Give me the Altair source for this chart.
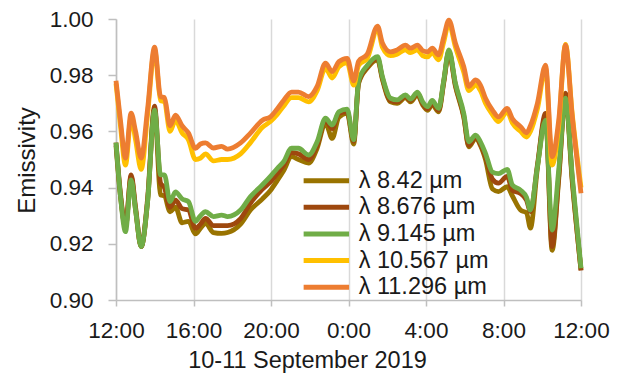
import altair as alt
import pandas as pd

# hours since 12:00 on 10 September 2019
hours = [0.0, 0.23, 0.49, 0.78, 1.01, 1.30, 1.63, 1.99, 2.30, 2.50, 2.79, 3.07, 3.41, 3.74,
         4.10, 4.36, 4.62, 5.03, 5.45, 5.76, 6.43, 6.94, 7.56, 7.97, 8.32, 8.65, 9.06, 9.42,
         9.94, 10.38, 10.81, 11.16, 11.50, 11.93, 12.27, 12.52, 12.97, 13.50, 13.75, 14.17,
         14.51, 14.94, 15.20, 15.56, 15.82, 16.08, 16.32, 16.65, 16.92, 17.18, 17.52, 17.95,
         18.21, 18.56, 18.81, 19.07, 19.43, 19.74, 20.19, 20.46, 20.88, 21.19, 21.39, 21.75,
         22.17, 22.51, 22.85, 23.20, 23.55, 24.0]

e_842 = [0.955, 0.937, 0.926, 0.944, 0.932, 0.919, 0.935, 0.968, 0.9374, 0.937, 0.9314, 0.933,
         0.9275, 0.928, 0.9235, 0.9255, 0.9273, 0.924, 0.9237, 0.924, 0.927, 0.932, 0.936, 0.939,
         0.9425, 0.946, 0.951, 0.950, 0.9487, 0.954, 0.963, 0.9575, 0.965, 0.9665, 0.9555, 0.977,
         0.9825, 0.9855, 0.9785, 0.9705, 0.970, 0.972, 0.9705, 0.973, 0.9695, 0.9675, 0.9695,
         0.967, 0.9775, 0.988, 0.976, 0.965, 0.9545, 0.9575, 0.955, 0.950, 0.9395, 0.9386,
         0.9403, 0.937, 0.932, 0.931, 0.9256, 0.947, 0.9652, 0.9177, 0.943, 0.9718, 0.942, 0.9107]

e_8676 = [0.956, 0.938, 0.926, 0.9445, 0.933, 0.919, 0.936, 0.969, 0.9416, 0.940, 0.933, 0.9355,
          0.9325, 0.932, 0.9255, 0.927, 0.929, 0.9265, 0.9265, 0.9265, 0.929, 0.9345, 0.9395,
          0.942, 0.945, 0.948, 0.9525, 0.952, 0.950, 0.955, 0.964, 0.961, 0.9665, 0.967, 0.9565,
          0.9775, 0.983, 0.986, 0.979, 0.971, 0.9705, 0.9725, 0.971, 0.9735, 0.970, 0.968, 0.970,
          0.9675, 0.978, 0.9885, 0.9765, 0.9655, 0.955, 0.958, 0.9555, 0.951, 0.943, 0.9416,
          0.944, 0.939, 0.9379, 0.9355, 0.9315, 0.948, 0.9664, 0.919, 0.944, 0.9736, 0.943, 0.9105]

e_9145 = [0.956, 0.937, 0.9243, 0.9427, 0.932, 0.919, 0.935, 0.9676, 0.9445, 0.9445, 0.935,
          0.9385, 0.936, 0.935, 0.928, 0.930, 0.9314, 0.9297, 0.9302, 0.9297, 0.932, 0.9368,
          0.941, 0.944, 0.9468, 0.9492, 0.954, 0.954, 0.9516, 0.9563, 0.9647, 0.9623, 0.967,
          0.9679, 0.957, 0.978, 0.9835, 0.9866, 0.9795, 0.9718, 0.9712, 0.973, 0.9715, 0.974,
          0.9706, 0.9688, 0.971, 0.9682, 0.9783, 0.989, 0.9771, 0.9664, 0.9563, 0.9587, 0.9563,
          0.9522, 0.9455, 0.945, 0.9465, 0.9409, 0.9391, 0.9365, 0.932, 0.9474, 0.964, 0.9249,
          0.9463, 0.9718, 0.944, 0.9113]

e_10567 = [0.977, 0.962, 0.948, 0.965, 0.957, 0.9465, 0.966, 0.989, 0.971, 0.9705, 0.960, 0.964,
           0.9595, 0.957, 0.950, 0.9505, 0.952, 0.9495, 0.950, 0.950, 0.952, 0.956, 0.9615,
           0.9635, 0.966, 0.969, 0.972, 0.972, 0.9705, 0.9745, 0.9825, 0.979, 0.983, 0.9845,
           0.9765, 0.9835, 0.986, 0.9965, 0.990, 0.987, 0.9875, 0.989, 0.988, 0.989, 0.987,
           0.9865, 0.988, 0.9855, 0.992, 0.9985, 0.990, 0.981, 0.9745, 0.9765, 0.9745, 0.970,
           0.966, 0.9635, 0.967, 0.963, 0.960, 0.958, 0.960, 0.968, 0.9825, 0.948, 0.962, 0.991,
           0.966, 0.940]

e_11296 = [0.978, 0.964, 0.9505, 0.9665, 0.960, 0.9505, 0.968, 0.990, 0.9724, 0.972, 0.962,
           0.9658, 0.962, 0.9594, 0.954, 0.9555, 0.9559, 0.9541, 0.9547, 0.9537, 0.9559, 0.9594,
           0.964, 0.9652, 0.968, 0.971, 0.974, 0.974, 0.9724, 0.976, 0.9843, 0.9813, 0.9848,
           0.986, 0.978, 0.985, 0.9875, 0.9975, 0.9915, 0.9883, 0.989, 0.9907, 0.9896, 0.9907,
           0.9888, 0.9883, 0.9896, 0.9872, 0.9937, 0.9996, 0.9914, 0.983, 0.976, 0.9783, 0.9765,
           0.9718, 0.9676, 0.9652, 0.9682, 0.9645, 0.9617, 0.9595, 0.962, 0.970, 0.9836, 0.951,
           0.964, 0.9907, 0.9652, 0.938]

series_names = ["λ 8.42 µm", "λ 8.676 µm", "λ 9.145 µm", "λ 10.567 µm", "λ 11.296 µm"]
series_colors = ["#997300", "#9E480E", "#70AD47", "#FFC000", "#ED7D31"]
series_values = [e_842, e_8676, e_9145, e_10567, e_11296]

x_tick_values = [0, 4, 8, 12, 16, 20, 24]
x_tick_labels = ["12:00", "16:00", "20:00", "0:00", "4:00", "8:00", "12:00"]
y_tick_values = [0.90, 0.92, 0.94, 0.96, 0.98, 1.00]

rows = []
for name, vals in zip(series_names, series_values):
    for h, v in zip(hours, vals):
        rows.append({"hour": h, "emissivity": v, "series": name})
df = pd.DataFrame(rows)

FONT = "Liberation Sans"
TXT = "#1a1a1a"
label_expr = "[" + ",".join("'%s'" % s for s in x_tick_labels) + "][round(datum.value/4)]"

chart = alt.Chart(df).mark_line(strokeWidth=4.8, interpolate="monotone").encode(
    x=alt.X("hour:Q",
            scale=alt.Scale(domain=[0, 24], nice=False, zero=False),
            axis=alt.Axis(values=x_tick_values, labelExpr=label_expr, title="10-11 September 2019",
                          grid=True, gridColor="#D9D9D9", gridWidth=1.5,
                          domainColor="#BFBFBF", domainWidth=1.5, tickColor="#BFBFBF",
                          tickWidth=1.5, tickSize=6, labelPadding=31, labelBaseline="alphabetic",
                          labelFlush=False, labelOverlap=False,
                          labelFont=FONT, labelFontSize=22.5, labelColor=TXT,
                          titleFont=FONT, titleFontSize=23.5, titleFontWeight="normal",
                          titleColor=TXT, titleX=191, titleY=67, titleAlign="center",
                          titleBaseline="alphabetic", titleAnchor="start")),
    y=alt.Y("emissivity:Q",
            scale=alt.Scale(domain=[0.90, 1.00], nice=False, zero=False),
            axis=alt.Axis(values=y_tick_values, format=".2f", title="Emissivity", grid=False,
                          domainColor="#BFBFBF", domainWidth=1.5, tickColor="#BFBFBF",
                          tickWidth=1.5, tickSize=8, labelPadding=15,
                          labelFont=FONT, labelFontSize=22.5, labelColor=TXT, labelFlush=False,
                          titleFont=FONT, titleFontSize=24, titleFontWeight="normal",
                          titleColor=TXT, titleX=-89, titleY=141, titleAngle=270,
                          titleAlign="center", titleBaseline="middle", titleAnchor="start")),
    color=alt.Color("series:N",
                    scale=alt.Scale(domain=series_names, range=series_colors),
                    sort=series_names,
                    legend=alt.Legend(title=None, orient="none", legendX=198.6, legendY=150,
                                      symbolType="M-4.2,0H4.2", symbolSize=117,
                                      symbolStrokeWidth=5, labelFont=FONT, labelFontSize=23.5,
                                      labelColor=TXT, labelOffset=20.6, rowPadding=1.6, padding=0,
                                      labelLimit=300)),
).properties(
    width=465, height=281,
    autosize=alt.AutoSizeParams(type="none"),
    padding={"left": 108, "top": 11, "right": 32, "bottom": 73},
).configure_view(stroke=None)

chart.save("out.html", embed_options={"renderer": "svg", "actions": False})
